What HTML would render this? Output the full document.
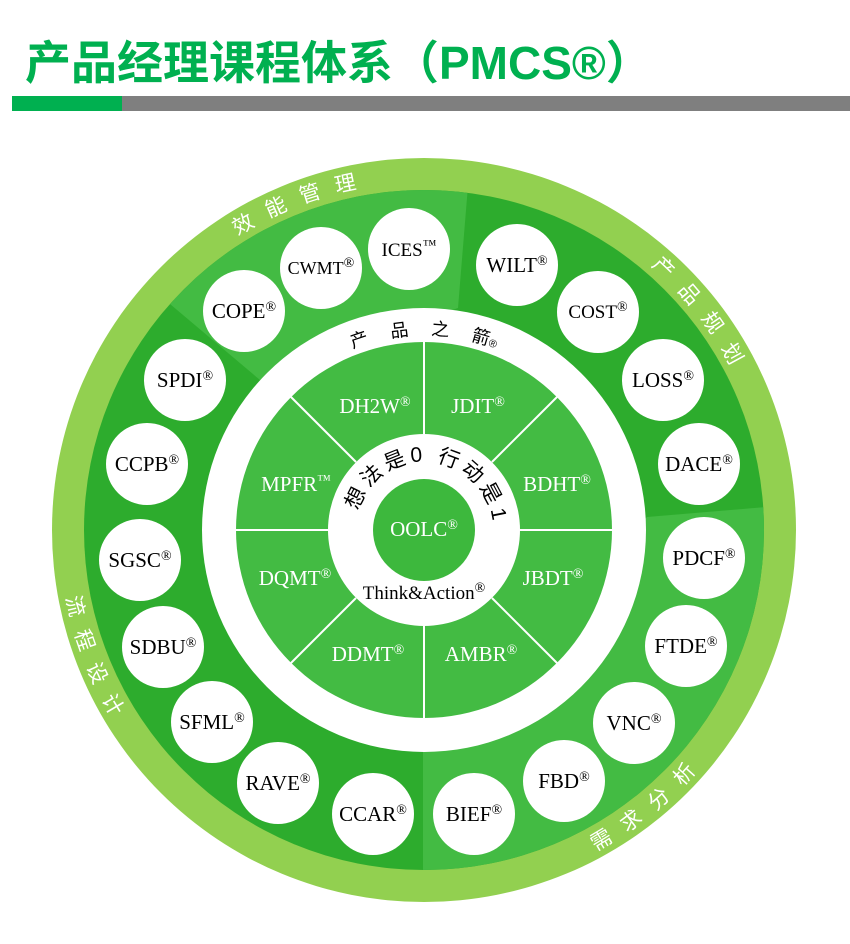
<!DOCTYPE html>
<html><head><meta charset="utf-8"><style>
html,body{margin:0;padding:0;background:#fff;width:850px;height:944px;overflow:hidden}
svg{display:block}
.c{font-family:"Liberation Serif","Noto Serif CJK SC",serif;font-size:21px;fill:#000;text-anchor:middle}
.w{font-family:"Liberation Serif","Noto Serif CJK SC",serif;font-size:21px;fill:#fff;text-anchor:middle}
.r{font-size:14px}
.ot{font-family:"Liberation Sans","Noto Sans CJK SC",sans-serif;font-size:21px;fill:#fff;letter-spacing:15px}
</style></head><body>
<svg width="850" height="944" viewBox="0 0 850 944" xmlns="http://www.w3.org/2000/svg">
<defs>
<clipPath id="cl"><circle cx="424" cy="530" r="340"/></clipPath>
<path id="t1" d="M94,419.6 A348,348 0 0 1 590.1,224.2"/>
<path id="t2" d="M433.1,182.1 A348,348 0 0 1 765,599.4"/>
<path id="b1" d="M351.4,886.7 A364,364 0 0 0 787.9,539.5"/>
<path id="b2" d="M105.6,353.5 A364,364 0 0 0 305.5,874.2"/>
<path id="ia" d="M229,530 A195,195 0 0 1 619,530"/>
<path id="ib" d="M355.6,535 A69,69 0 1 1 490.9,549"/>
</defs>
<text x="25" y="79" font-family="'Liberation Sans','Noto Sans CJK SC',sans-serif" font-weight="bold" font-size="46" fill="#00b050">产品经理课程体系（PMCS®）</text>
<rect x="12" y="96" width="110" height="15" fill="#00b050"/>
<rect x="122" y="96" width="728" height="15" fill="#7f7f7f"/>

<circle cx="424" cy="530" r="372" fill="#92d050"/>
<circle cx="424" cy="530" r="340" fill="#2dac2d"/>
<g clip-path="url(#cl)" fill="#43bb43">
<polygon points="260,380 100,245 40,100 475,100 458,308"/>
<polygon points="647,517 850,500 850,944 423,944 423,750"/>
</g>
<circle cx="424" cy="530" r="222" fill="#fff"/>
<circle cx="424" cy="530" r="188" fill="#43bb43"/>
<g stroke="#fff" stroke-width="2">
<line x1="424" y1="342" x2="424" y2="434"/><line x1="424" y1="626" x2="424" y2="718"/>
<line x1="236" y1="530" x2="328" y2="530"/><line x1="520" y1="530" x2="612" y2="530"/>
<line x1="291" y1="397" x2="356" y2="462"/><line x1="492" y1="598" x2="557" y2="663"/>
<line x1="557" y1="397" x2="492" y2="462"/><line x1="356" y1="598" x2="291" y2="663"/>
</g>
<circle cx="424" cy="530" r="96" fill="#fff"/>
<circle cx="424" cy="530" r="51" fill="#3db83d"/>
<text class="w" x="424" y="536">OOLC<tspan class="r" dy="-7">®</tspan></text>
<text class="c" x="424" y="599" style="font-size:19px">Think&amp;Action<tspan class="r" dy="-7">®</tspan></text>

<text class="w" x="375" y="413">DH2W<tspan class="r" dy="-7">®</tspan></text>
<text class="w" x="478" y="413">JDIT<tspan class="r" dy="-7">®</tspan></text>
<text class="w" x="296" y="491">MPFR<tspan class="r" dy="-7">™</tspan></text>
<text class="w" x="557" y="491">BDHT<tspan class="r" dy="-7">®</tspan></text>
<text class="w" x="295" y="585">DQMT<tspan class="r" dy="-7">®</tspan></text>
<text class="w" x="553" y="585">JBDT<tspan class="r" dy="-7">®</tspan></text>
<text class="w" x="368" y="661">DDMT<tspan class="r" dy="-7">®</tspan></text>
<text class="w" x="481" y="661">AMBR<tspan class="r" dy="-7">®</tspan></text>

<text font-family="'Liberation Sans','Noto Sans CJK SC',sans-serif" font-size="18" fill="#000"><textPath href="#ia" startOffset="50%" text-anchor="middle">产<tspan dx="22">品</tspan><tspan dx="22">之</tspan><tspan dx="22">箭</tspan><tspan font-size="11">®</tspan></textPath></text>
<text font-family="'Liberation Sans','Noto Sans CJK SC',sans-serif" font-size="21" fill="#000" letter-spacing="4"><textPath href="#ib" startOffset="50%" text-anchor="middle">想法是0 行动是1</textPath></text>

<text class="ot"><textPath href="#t1" startOffset="51%" text-anchor="middle">效能管理</textPath></text>
<text class="ot"><textPath href="#t2" startOffset="51%" text-anchor="middle">产品规划</textPath></text>
<text class="ot"><textPath href="#b1" startOffset="51%" text-anchor="middle">需求分析</textPath></text>
<text class="ot"><textPath href="#b2" startOffset="51%" text-anchor="middle">流程设计</textPath></text>

<g fill="#fff">
<circle cx="409" cy="249" r="41"/><circle cx="321" cy="268" r="41"/><circle cx="244" cy="311" r="41"/>
<circle cx="185" cy="380" r="41"/><circle cx="147" cy="464" r="41"/><circle cx="140" cy="560" r="41"/>
<circle cx="163" cy="647" r="41"/><circle cx="212" cy="722" r="41"/><circle cx="278" cy="783" r="41"/>
<circle cx="373" cy="814" r="41"/><circle cx="474" cy="814" r="41"/><circle cx="564" cy="781" r="41"/>
<circle cx="634" cy="723" r="41"/><circle cx="686" cy="646" r="41"/><circle cx="704" cy="558" r="41"/>
<circle cx="699" cy="464" r="41"/><circle cx="663" cy="380" r="41"/><circle cx="598" cy="312" r="41"/>
<circle cx="517" cy="265" r="41"/>
</g>
<text class="c" x="409" y="256" style="font-size:19px">ICES<tspan class="r" dy="-7">™</tspan></text>
<text class="c" x="321" y="274" style="font-size:18px">CWMT<tspan class="r" dy="-7">®</tspan></text>
<text class="c" x="244" y="318">COPE<tspan class="r" dy="-7">®</tspan></text>
<text class="c" x="185" y="387">SPDI<tspan class="r" dy="-7">®</tspan></text>
<text class="c" x="147" y="471">CCPB<tspan class="r" dy="-7">®</tspan></text>
<text class="c" x="140" y="567">SGSC<tspan class="r" dy="-7">®</tspan></text>
<text class="c" x="163" y="654">SDBU<tspan class="r" dy="-7">®</tspan></text>
<text class="c" x="212" y="729">SFML<tspan class="r" dy="-7">®</tspan></text>
<text class="c" x="278" y="790">RAVE<tspan class="r" dy="-7">®</tspan></text>
<text class="c" x="373" y="821">CCAR<tspan class="r" dy="-7">®</tspan></text>
<text class="c" x="474" y="821">BIEF<tspan class="r" dy="-7">®</tspan></text>
<text class="c" x="564" y="788">FBD<tspan class="r" dy="-7">®</tspan></text>
<text class="c" x="634" y="730">VNC<tspan class="r" dy="-7">®</tspan></text>
<text class="c" x="686" y="653">FTDE<tspan class="r" dy="-7">®</tspan></text>
<text class="c" x="704" y="565">PDCF<tspan class="r" dy="-7">®</tspan></text>
<text class="c" x="699" y="471">DACE<tspan class="r" dy="-7">®</tspan></text>
<text class="c" x="663" y="387">LOSS<tspan class="r" dy="-7">®</tspan></text>
<text class="c" x="598" y="318" style="font-size:19px">COST<tspan class="r" dy="-7">®</tspan></text>
<text class="c" x="517" y="272">WILT<tspan class="r" dy="-7">®</tspan></text>
</svg>
</body></html>
